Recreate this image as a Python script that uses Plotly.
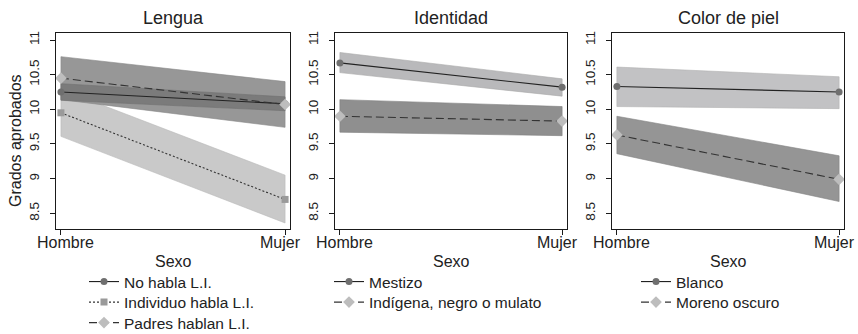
import plotly.graph_objects as go

# Categories on the x axis
sexo = ["Hombre", "Mujer"]

# Panel "Lengua": predicted grades with confidence bands
no_habla = [10.25, 10.08]
no_habla_lo = [10.13, 9.98]
no_habla_hi = [10.37, 10.18]

individuo = [9.95, 8.70]
individuo_lo = [9.61, 8.36]
individuo_hi = [10.29, 9.05]

padres = [10.45, 10.07]
padres_lo = [10.14, 9.74]
padres_hi = [10.76, 10.40]

# Panel "Identidad"
mestizo = [10.67, 10.32]
mestizo_lo = [10.53, 10.19]
mestizo_hi = [10.82, 10.44]

indigena = [9.90, 9.83]
indigena_lo = [9.67, 9.62]
indigena_hi = [10.14, 10.04]

# Panel "Color de piel"
blanco = [10.33, 10.25]
blanco_lo = [10.04, 10.01]
blanco_hi = [10.61, 10.47]

moreno = [9.63, 8.99]
moreno_lo = [9.36, 8.67]
moreno_hi = [9.90, 9.33]

y_ticks = [8.5, 9, 9.5, 10, 10.5, 11]
y_ticktext = ["8.5", "9", "9.5", "10", "10.5", "11"]

titles = ["Lengua", "Identidad", "Color de piel"]

W, H = 858, 334
FONT = "Liberation Sans, Arial, Helvetica, sans-serif"
TXT = "#222222"

# panel boxes in pixels (left, right), shared top/bottom
panels_px = [(56, 290), (335, 567), (612, 844)]
top_px, bottom_px = 33.3, 229.3

# one legend box per entry: (legend id, left px, row centre px)
legend_slots = {
    "legend": (84, 282), "legend2": (84, 302.5), "legend3": (84, 323),
    "legend4": (329, 282), "legend5": (329, 302.5),
    "legend6": (636, 282), "legend7": (636, 302.5),
}

fig = go.Figure()


def axes_of(i):
    return ("x", "y") if i == 1 else (f"x{i}", f"y{i}")


def band(axis_idx, lo, hi, fill, edge):
    xa, ya = axes_of(axis_idx)
    fig.add_trace(go.Scatter(
        x=[sexo[0], sexo[1], sexo[1], sexo[0], sexo[0]],
        y=[lo[0], lo[1], hi[1], hi[0], lo[0]],
        fill="toself", fillcolor=fill,
        line=dict(color=edge, width=0.6),
        mode="lines", hoverinfo="skip", showlegend=False,
        xaxis=xa, yaxis=ya,
    ))


def series(axis_idx, name, y, dash, lcolor, symbol, mcolor, msize, legend):
    xa, ya = axes_of(axis_idx)
    fig.add_trace(go.Scatter(
        x=sexo, y=y, name=name, mode="lines+markers",
        line=dict(color=lcolor, width=1.1, dash=dash),
        marker=dict(symbol=symbol, color=mcolor, size=msize, line=dict(width=0)),
        cliponaxis=False, xaxis=xa, yaxis=ya, legend=legend,
    ))


# Lengua
band(1, individuo_lo, individuo_hi, "#c9c9c9", "#b9b9b9")
band(1, padres_lo, padres_hi, "#979797", "#888888")
band(1, no_habla_lo, no_habla_hi, "#7b7b7b", "#707070")
series(1, "No habla L.I.", no_habla, "solid", "#222222", "circle", "#6f6f6f", 7, "legend")
series(1, "Individuo habla L.I.", individuo, "2px,2px", "#333333", "square", "#9a9a9a", 7, "legend2")
series(1, "Padres hablan L.I.", padres, "8px,4px", "#333333", "diamond", "#bdbdbd", 9, "legend3")

# Identidad
band(2, mestizo_lo, mestizo_hi, "#b9b9bb", "#aaaaaa")
band(2, indigena_lo, indigena_hi, "#8f8f8f", "#808080")
series(2, "Mestizo", mestizo, "solid", "#222222", "circle", "#6f6f6f", 7, "legend4")
series(2, "Indígena, negro o mulato", indigena, "8px,4px", "#333333", "diamond", "#bdbdbd", 9, "legend5")

# Color de piel
band(3, blanco_lo, blanco_hi, "#c2c2c4", "#b2b2b2")
band(3, moreno_lo, moreno_hi, "#959595", "#858585")
series(3, "Blanco", blanco, "solid", "#222222", "circle", "#6f6f6f", 7, "legend6")
series(3, "Moreno oscuro", moreno, "8px,4px", "#333333", "diamond", "#bdbdbd", 9, "legend7")

y_dom = [1 - bottom_px / H, 1 - top_px / H]


def axis_common(size):
    return dict(showline=True, linecolor="#1a1a1a", linewidth=1.2, mirror=True,
                showgrid=False, zeroline=False, ticks="outside", ticklen=5,
                tickcolor="#1a1a1a", tickwidth=1, automargin=False,
                tickfont=dict(family=FONT, size=size, color=TXT))


layout = dict(width=W, height=H, margin=dict(l=0, r=0, t=0, b=0, autoexpand=False),
              paper_bgcolor="white", plot_bgcolor="white",
              font=dict(family=FONT, color=TXT), showlegend=True)

annotations = []
for i, (l, r) in enumerate(panels_px, start=1):
    sfx = "" if i == 1 else str(i)
    xa, _ = axes_of(i)
    layout[f"xaxis{sfx}"] = dict(
        domain=[l / W, r / W], anchor=f"y{sfx}", type="category",
        range=[-0.022, 1.022], showticklabels=False, **axis_common(16))
    layout[f"yaxis{sfx}"] = dict(
        domain=y_dom, anchor=f"x{sfx}", range=[8.269, 11.097],
        tickvals=y_ticks, ticktext=y_ticktext, tickangle=-90,
        ticklabelstandoff=6, **axis_common(13.5))
    # category labels under the ticks, nudged inward so they stay inside the panel
    for cat, shift in zip(sexo, (5, -5)):
        annotations.append(dict(text=cat, x=cat, xref=xa, y=1 - 242 / H, yref="paper",
                                xshift=shift, showarrow=False, xanchor="center",
                                yanchor="middle",
                                font=dict(family=FONT, size=16, color=TXT)))
    cx = (l + r) / 2 / W
    annotations.append(dict(text=titles[i - 1], x=cx, y=1 - 18.5 / H, xref="paper", yref="paper",
                            showarrow=False, xanchor="center", yanchor="middle",
                            font=dict(family=FONT, size=18, color=TXT)))
    annotations.append(dict(text="Sexo", x=cx, y=1 - 261 / H, xref="paper", yref="paper",
                            showarrow=False, xanchor="center", yanchor="middle",
                            font=dict(family=FONT, size=16, color=TXT)))

annotations.append(dict(text="Grados aprobados", x=16 / W, y=1 - 141 / H, xref="paper", yref="paper",
                        showarrow=False, textangle=-90, xanchor="center", yanchor="middle",
                        font=dict(family=FONT, size=16, color=TXT)))

for lid, (lx, ly) in legend_slots.items():
    layout[lid] = dict(x=lx / W, y=1 - ly / H, xanchor="left", yanchor="middle",
                       bgcolor="rgba(0,0,0,0)", borderwidth=0,
                       font=dict(family=FONT, size=15.5, color=TXT),
                       itemclick=False, itemdoubleclick=False)
layout["annotations"] = annotations

fig.update_layout(**layout)
fig.write_html("out.html")
